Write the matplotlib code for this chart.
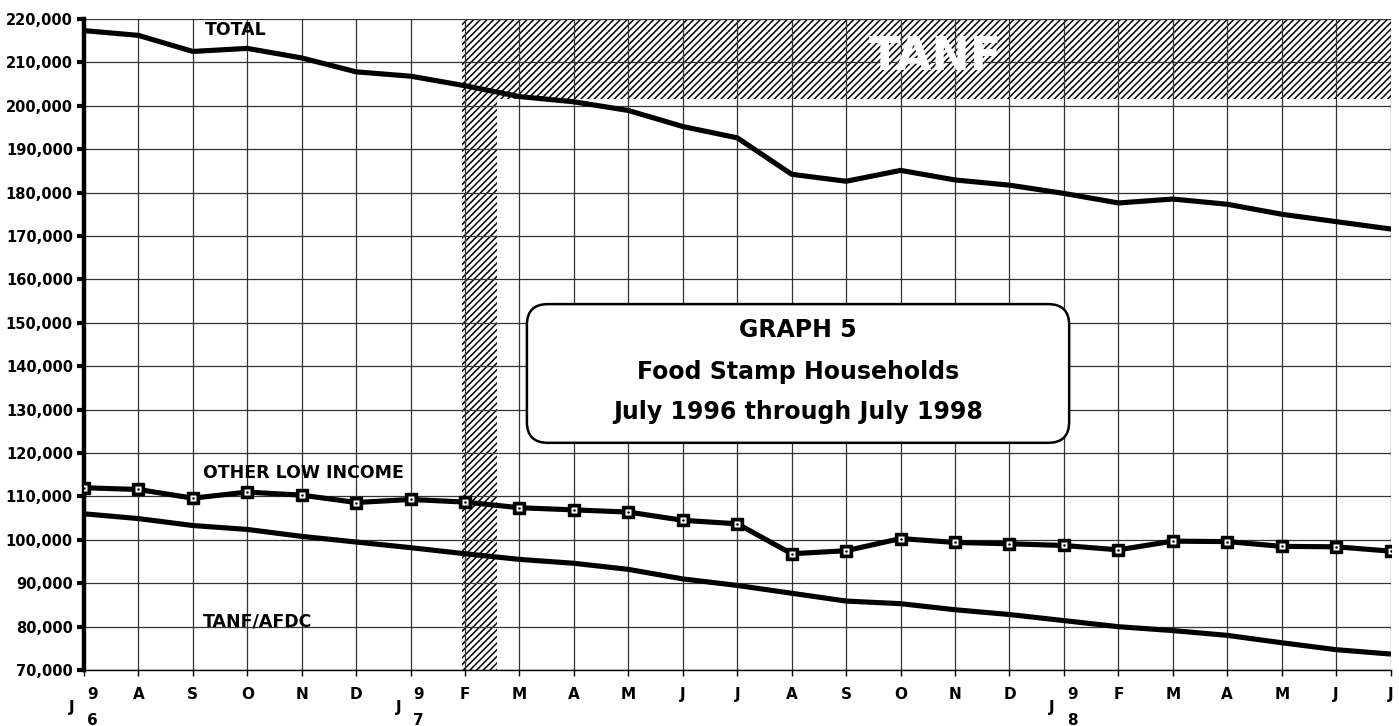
import matplotlib.pyplot as plt
import matplotlib.patches as mpatches
import matplotlib.transforms as mtransforms
from matplotlib.ticker import FuncFormatter
import numpy as np

#
# Food stamp households, July 1996 - July 1998
#
months = ['J', 'A', 'S', 'O', 'N', 'D', 'J', 'F', 'M', 'A', 'M', 'J', 'J',
          'A', 'S', 'O', 'N', 'D', 'J', 'F', 'M', 'A', 'M', 'J', 'J']
# year digits shown beside the January ticks (and the first July)
year_marks = {0: ('9', '6'), 6: ('9', '7'), 18: ('9', '8')}

total = [217300, 216200, 212500, 213200, 211000, 207800, 206800, 204600,
         202100, 200900, 198900, 195200, 192600, 184200, 182600, 185100,
         182900, 181700, 179800, 177600, 178500, 177300, 175000, 173300, 171600]
other_low = [112000, 111600, 109600, 111000, 110300, 108600, 109300, 108700,
             107400, 106900, 106400, 104500, 103700, 96800, 97500, 100300,
             99400, 99100, 98700, 97700, 99700, 99600, 98500, 98400, 97400]
tanf_afdc = [106000, 104900, 103300, 102400, 100800, 99500, 98200, 96800,
             95500, 94600, 93200, 91000, 89500, 87700, 85900, 85300,
             83900, 82800, 81400, 80000, 79100, 78000, 76300, 74700, 73700]

x = np.arange(len(months))

plt.rcParams['font.family'] = 'DejaVu Sans'
plt.rcParams['hatch.linewidth'] = 1.1
plt.rcParams['hatch.color'] = 'black'

fig = plt.figure(figsize=(13.99, 7.26), dpi=100)
ax = fig.add_axes([0.060, 0.077, 0.934, 0.897])

# TANF hatched region (L shape: thin strip at Feb 97 plus band along the top)
tanf_region = mpatches.Polygon([(6.95, 70000), (7.58, 70000), (7.58, 201600),
                                (24, 201600), (24, 220000), (6.95, 220000)],
                               closed=True, facecolor='white', edgecolor='black',
                               hatch='/////', linewidth=0, zorder=1)
ax.add_patch(tanf_region)
ax.text(15.64, 211200, 'TANF', color='white', fontsize=33, fontweight='bold',
        ha='center', va='center', zorder=3)

lw = 3.7
for series in [total, tanf_afdc, other_low]:
    ax.plot(x, series, color='black', linewidth=lw, solid_joinstyle='round',
            solid_capstyle='round', zorder=4)
# markers on other low income
ax.plot(x, other_low, linestyle='none', marker='s', markersize=8,
        markerfacecolor='black', markeredgecolor='black', zorder=5)
ax.plot(x, other_low, linestyle='none', marker='s', markersize=4.2,
        markerfacecolor='white', markeredgecolor='none', zorder=6)
ax.plot(x, other_low, linestyle='none', marker='o', markersize=1.8,
        markerfacecolor='black', markeredgecolor='none', zorder=7)

# series labels
ax.text(2.22, 217500, 'TOTAL', fontsize=12.5, fontweight='bold', va='center', zorder=6)
ax.text(2.19, 115300, 'OTHER LOW INCOME', fontsize=12.5, fontweight='bold', va='center', zorder=6)
ax.text(2.19, 81100, 'TANF/AFDC', fontsize=12.5, fontweight='bold', va='center', zorder=6)

# title box
box = mpatches.FancyBboxPatch((0.339, 0.349), 0.415, 0.213,
                              boxstyle='round,pad=0,rounding_size=0.016',
                              mutation_aspect=2.0, transform=ax.transAxes,
                              facecolor='white', edgecolor='black', linewidth=1.8,
                              zorder=8)
ax.add_patch(box)
for yy, txt in zip([0.522, 0.458, 0.396],
                   ['GRAPH 5', 'Food Stamp Households', 'July 1996 through July 1998']):
    ax.text(0.5465, yy, txt, transform=ax.transAxes, fontsize=17, fontweight='bold',
            ha='center', va='center', zorder=9)

# axes
ax.set_xlim(0, 24)
ax.set_ylim(70000, 220000)
ax.set_yticks(np.arange(70000, 220001, 10000))
ax.yaxis.set_major_formatter(FuncFormatter(lambda v, p: '{:,.0f}'.format(v)))
ax.set_xticks(x)
ax.set_xticklabels([''] * len(x))
ax.grid(True, color='#333333', linewidth=0.9)
for s in ['top', 'right']:
    ax.spines[s].set_visible(False)
ax.spines['left'].set_linewidth(3.2)
ax.spines['bottom'].set_linewidth(1.0)
ax.tick_params(axis='y', length=5, width=3, pad=3, labelsize=10.5)
ax.tick_params(axis='x', length=4, width=1)
for lab in ax.get_yticklabels():
    lab.set_fontweight('bold')

# month labels under the axis
trans = mtransforms.blended_transform_factory(ax.transData, ax.transAxes)
for i, m in enumerate(months):
    if i in year_marks:
        ax.text(i - 0.22, -0.058, m, transform=trans, fontsize=11, fontweight='bold',
                ha='center', va='center')
        ax.text(i + 0.15, -0.038, year_marks[i][0], transform=trans, fontsize=11,
                fontweight='bold', ha='center', va='center')
        ax.text(i + 0.15, -0.077, year_marks[i][1], transform=trans, fontsize=11,
                fontweight='bold', ha='center', va='center')
    else:
        ax.text(i, -0.038, m, transform=trans, fontsize=11, fontweight='bold',
                ha='center', va='center')

plt.savefig('out.png', dpi=100)
